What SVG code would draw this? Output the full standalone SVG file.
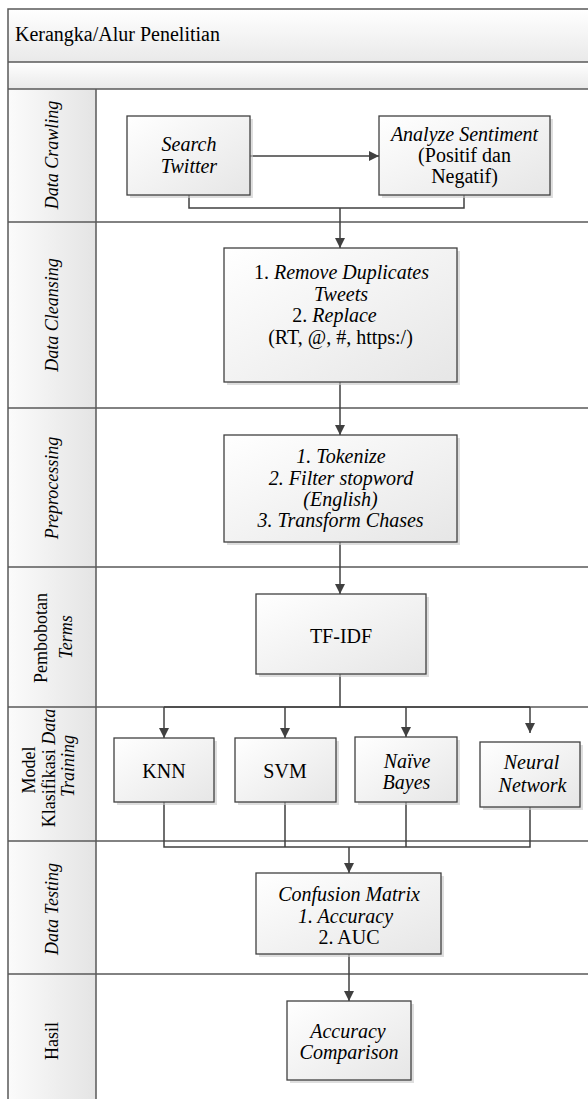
<svg xmlns="http://www.w3.org/2000/svg" width="588" height="1099" viewBox="0 0 588 1099">
<style>
.t{font-family:"Liberation Serif","Times New Roman",serif;font-size:20px;fill:#000}
.r{font-family:"Liberation Serif","Times New Roman",serif;font-size:18px;fill:#000}
.i{font-style:italic}
.c{text-anchor:middle}
.lane{stroke:#5a5a5a;stroke-width:1.5;fill:none}
.box{fill:url(#gBox);stroke:#404040;stroke-width:1.3}
.sh{fill:#c8c8c8;opacity:0.6}
.cn{stroke:#404040;stroke-width:1.5;fill:none}
</style>
<defs>
<linearGradient id="gHead" x1="0" y1="0" x2="0" y2="1"><stop offset="0" stop-color="#ffffff"/><stop offset="1" stop-color="#e9e9e9"/></linearGradient>
<linearGradient id="gCol" x1="0" y1="0" x2="1" y2="0"><stop offset="0" stop-color="#fbfbfb"/><stop offset="1" stop-color="#e4e4e4"/></linearGradient>
<linearGradient id="gBox" x1="0" y1="0" x2="1" y2="1"><stop offset="0" stop-color="#ffffff"/><stop offset="1" stop-color="#e6e6e6"/></linearGradient>
<marker id="ah" markerWidth="11" markerHeight="11" refX="10" refY="5.5" orient="auto" markerUnits="userSpaceOnUse"><path d="M0,0.5 L10,5.5 L0,10.5 Z" fill="#404040"/></marker>
</defs>
<rect width="588" height="1099" fill="#ffffff"/>
<g id="pool">
<rect x="8" y="9" width="590" height="53" fill="url(#gHead)"/>
<rect x="8" y="62" width="590" height="27" fill="url(#gHead)"/>
<rect x="8" y="89" width="88" height="1020" fill="url(#gCol)"/>
<path class="lane" d="M8,1110 V9 H598 M8,62 H598 M8,89 H598 M96,89 V1110 M8,222 H598 M8,408 H598 M8,567 H598 M8,707 H598 M8,841 H598 M8,974 H598"/>
<text class="t" x="15" y="41">Kerangka/Alur Penelitian</text>
</g>
<g id="lane-labels">
<text class="r i c" transform="translate(58,155) rotate(-90)">Data Crawling</text>
<text class="r i c" transform="translate(58,315) rotate(-90)">Data Cleansing</text>
<text class="r i c" transform="translate(58,488) rotate(-90)">Preprocessing</text>
<text class="r c" transform="translate(47,638) rotate(-90)">Pembobotan</text>
<text class="r i c" transform="translate(72,637) rotate(-90)">Terms</text>
<text class="r c" transform="translate(35,770) rotate(-90)">Model</text>
<text class="r c" transform="translate(55,768) rotate(-90)">Klasifikasi <tspan class="i">Data</tspan></text>
<text class="r i c" transform="translate(74,766) rotate(-90)">Training</text>
<text class="r i c" transform="translate(58,909) rotate(-90)">Data Testing</text>
<text class="r c" transform="translate(58,1041) rotate(-90)">Hasil</text>
</g>
<g id="connectors">
<line class="cn" x1="250" y1="156" x2="379" y2="156" marker-end="url(#ah)"/>
<path class="cn" d="M189,195 V208 H464 V195"/>
<path class="cn" d="M340,208 V248" marker-end="url(#ah)"/>
<path class="cn" d="M340,382 V435" marker-end="url(#ah)"/>
<path class="cn" d="M340,542 V594" marker-end="url(#ah)"/>
<path class="cn" d="M340,674 V707 M164,707 H530"/>
<path class="cn" d="M164,707 V738" marker-end="url(#ah)"/>
<path class="cn" d="M285,707 V738" marker-end="url(#ah)"/>
<path class="cn" d="M406,707 V737" marker-end="url(#ah)"/>
<path class="cn" d="M530,707 V733" marker-end="url(#ah)"/>
<path class="cn" d="M164,802 V847 H530 V807 M285,802 V847 M406,802 V847"/>
<path class="cn" d="M349,847 V873" marker-end="url(#ah)"/>
<path class="cn" d="M349,954 V1001" marker-end="url(#ah)"/>
</g>
<g id="search-twitter">
<rect class="sh" x="130" y="119" width="123" height="79"/>
<rect class="box" x="127" y="116" width="123" height="79"/>
<text class="t i c" x="189" y="151">Search</text>
<text class="t i c" x="189" y="173">Twitter</text>
</g>
<g id="analyze-sentiment">
<rect class="sh" x="382" y="119" width="171" height="79"/>
<rect class="box" x="379" y="116" width="171" height="79"/>
<text class="t i c" x="464.5" y="141">Analyze Sentiment</text>
<text class="t c" x="464.5" y="162">(Positif dan</text>
<text class="t c" x="464.5" y="183">Negatif)</text>
</g>
<g id="data-cleansing">
<rect class="sh" x="227" y="251" width="233" height="134"/>
<rect class="box" x="224" y="248" width="233" height="134"/>
<text class="t c" x="341.5" y="279">1. <tspan class="i">Remove Duplicates</tspan></text>
<text class="t i c" x="341" y="301">Tweets</text>
<text class="t c" x="334.5" y="322">2. <tspan class="i">Replace</tspan></text>
<text class="t c" x="340.5" y="344">(RT, @, #, https:/)</text>
</g>
<g id="preprocessing">
<rect class="sh" x="227" y="438" width="233" height="107"/>
<rect class="box" x="224" y="435" width="233" height="107"/>
<text class="t i c" x="341" y="463">1. Tokenize</text>
<text class="t i c" x="341" y="485">2. Filter stopword</text>
<text class="t i c" x="340.5" y="506">(English)</text>
<text class="t i c" x="340.5" y="527">3. Transform Chases</text>
</g>
<g id="tf-idf">
<rect class="sh" x="259" y="597" width="170" height="80"/>
<rect class="box" x="256" y="594" width="170" height="80"/>
<text class="t c" x="341" y="643">TF-IDF</text>
</g>
<g id="knn">
<rect class="sh" x="117" y="741" width="100" height="64"/>
<rect class="box" x="114" y="738" width="100" height="64"/>
<text class="t c" x="164" y="778">KNN</text>
</g>
<g id="svm">
<rect class="sh" x="238" y="741" width="101" height="64"/>
<rect class="box" x="235" y="738" width="101" height="64"/>
<text class="t c" x="285" y="778">SVM</text>
</g>
<g id="naive-bayes">
<rect class="sh" x="358" y="740" width="102" height="65"/>
<rect class="box" x="355" y="737" width="102" height="65"/>
<text class="t i c" x="407" y="768">Naïve</text>
<text class="t i c" x="406.5" y="789">Bayes</text>
</g>
<g id="neural-network">
<rect class="sh" x="483" y="745" width="100" height="65"/>
<rect class="box" x="480" y="742" width="100" height="65"/>
<text class="t i c" x="531.5" y="769">Neural</text>
<text class="t i c" x="532.5" y="792">Network</text>
</g>
<g id="confusion-matrix">
<rect class="sh" x="259" y="876" width="185" height="81"/>
<rect class="box" x="256" y="873" width="185" height="81"/>
<text class="t i c" x="349" y="901">Confusion Matrix</text>
<text class="t i c" x="345.5" y="923">1. Accuracy</text>
<text class="t c" x="349" y="944">2. AUC</text>
</g>
<g id="accuracy-comparison">
<rect class="sh" x="290" y="1004" width="124" height="79"/>
<rect class="box" x="287" y="1001" width="124" height="79"/>
<text class="t i c" x="348" y="1038">Accuracy</text>
<text class="t i c" x="349" y="1059">Comparison</text>
</g>
</svg>
